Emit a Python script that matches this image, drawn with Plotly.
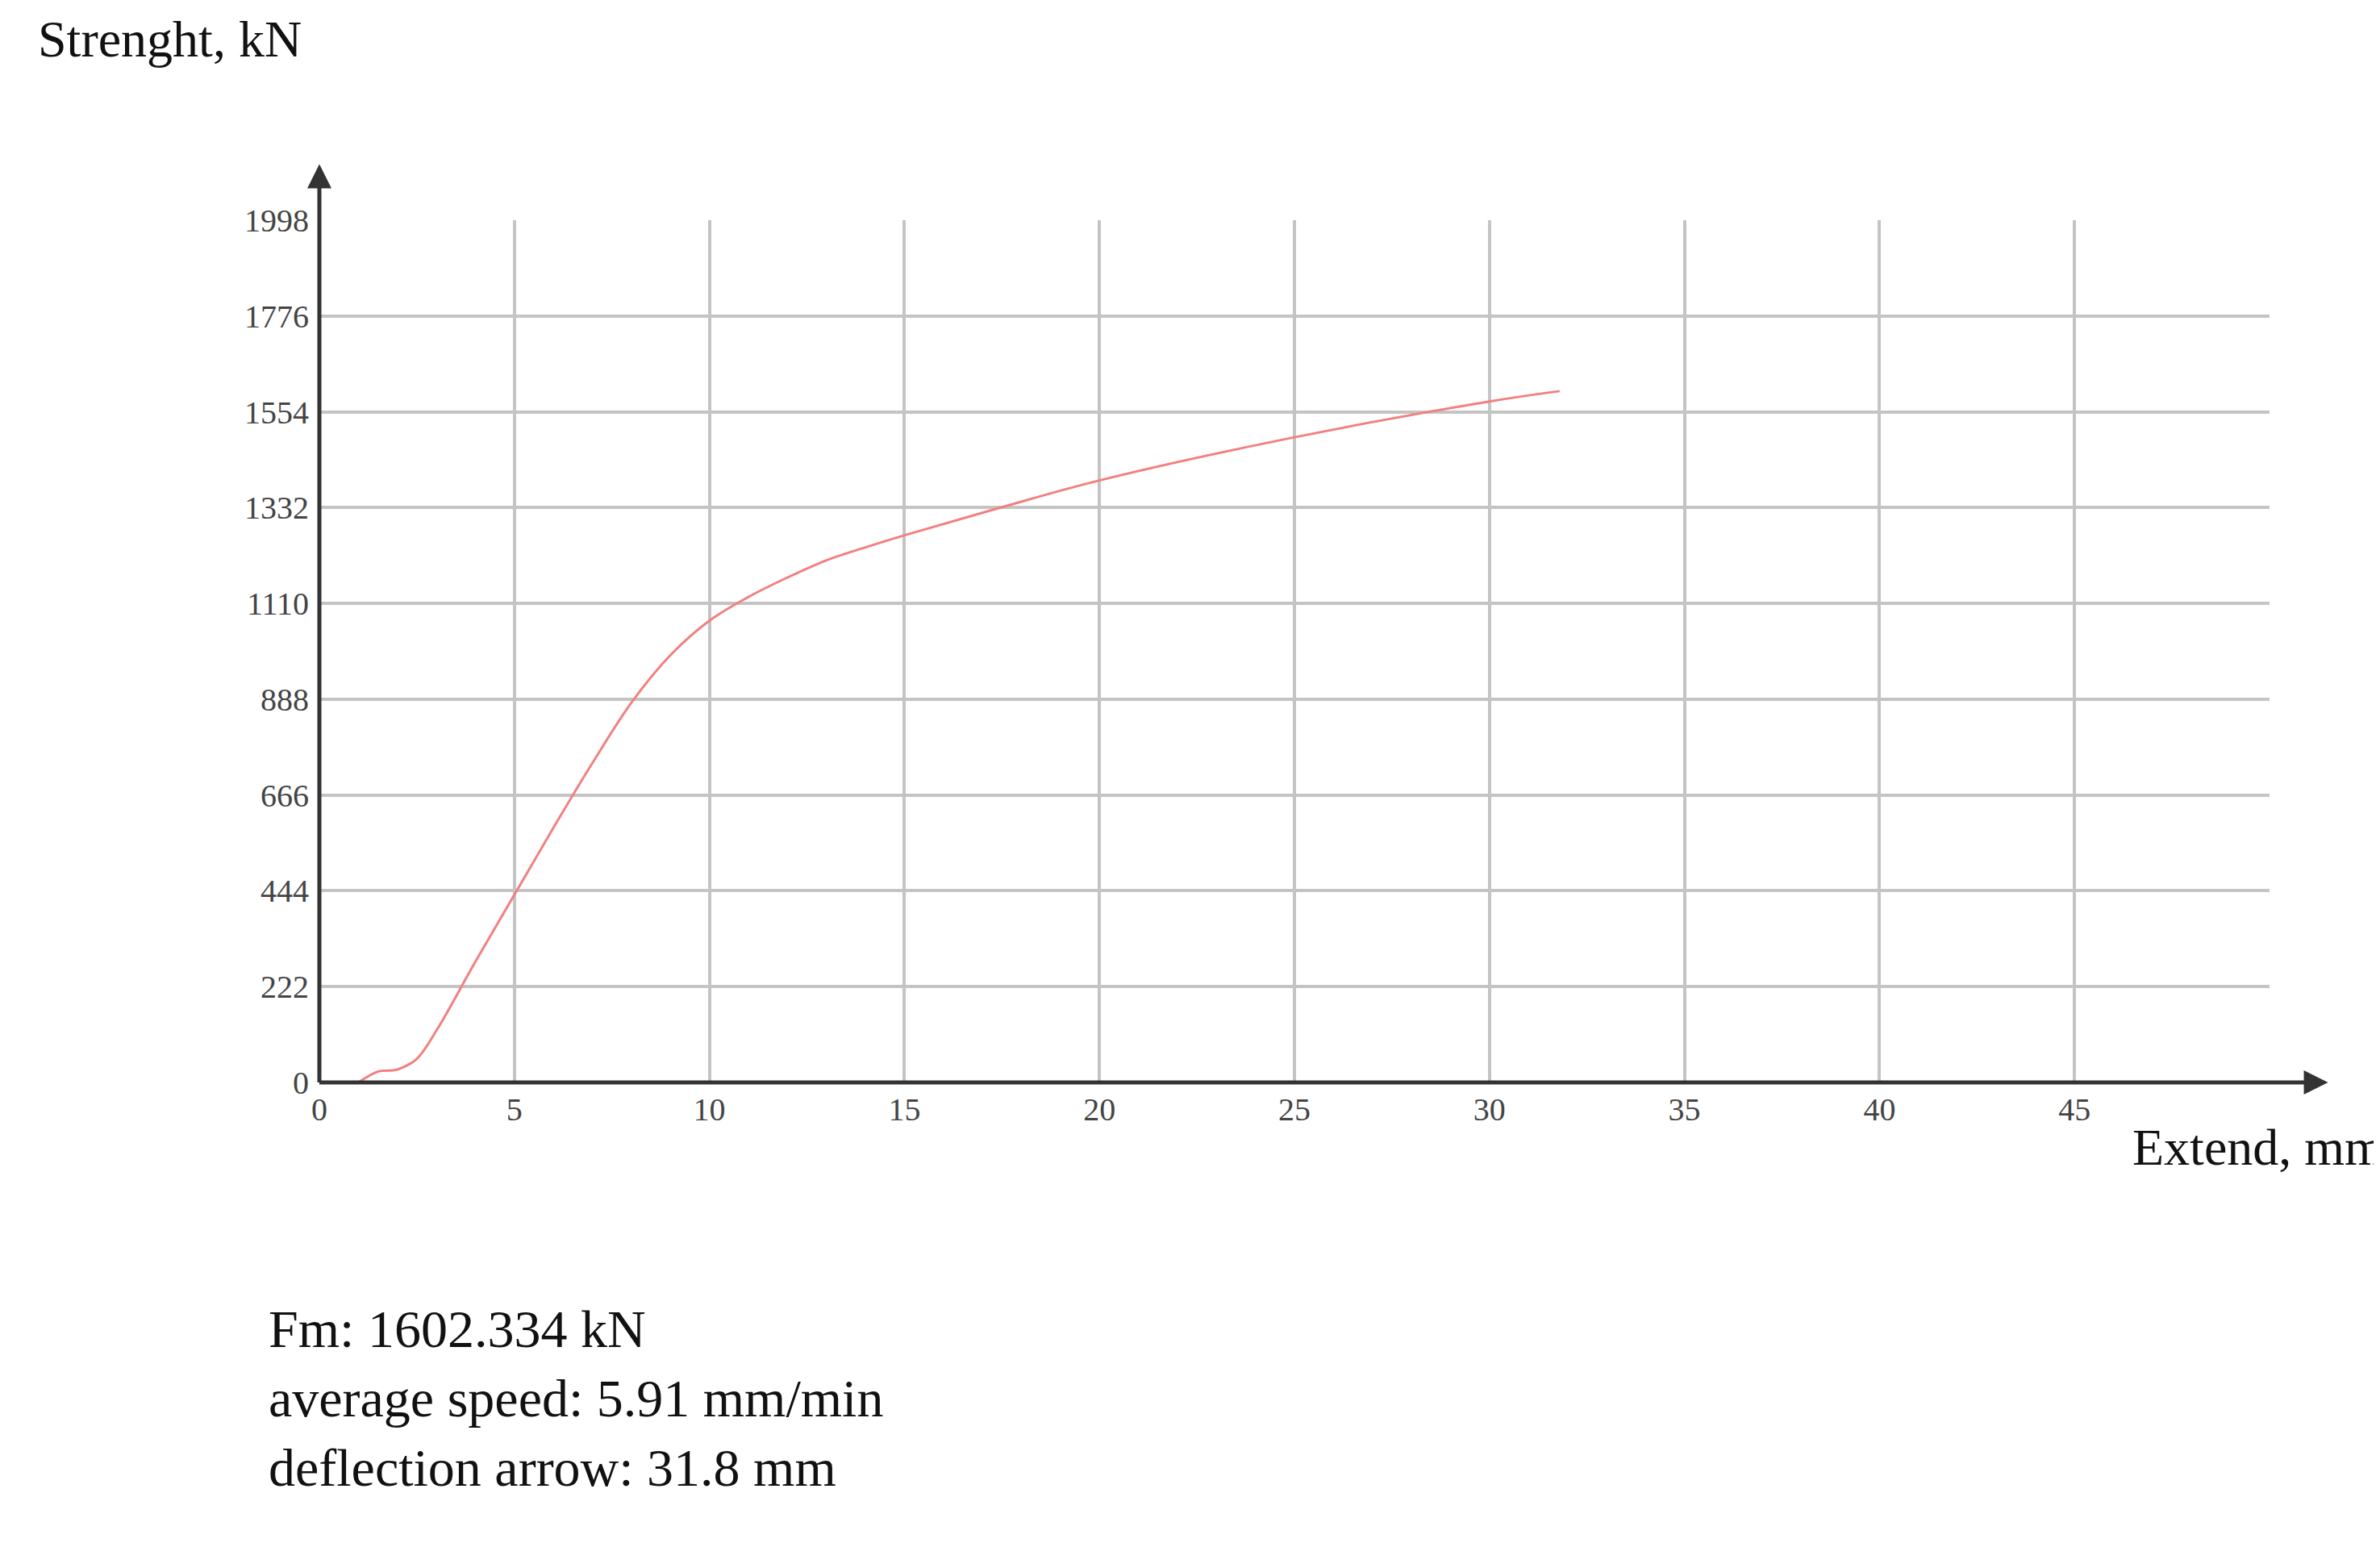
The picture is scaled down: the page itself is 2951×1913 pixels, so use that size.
import plotly.graph_objects as go

extend_mm = [1.0, 1.5, 2.0, 2.5, 3.0, 4.0, 5.0, 6.0, 7.0, 8.0, 9.0, 10.0, 11.0, 12.0, 13.0, 14.0, 15.0, 17.0, 20.0, 25.0, 30.0, 31.8]
strength_kN = [0, 25, 30, 55, 120, 280, 435, 590, 740, 880, 990, 1070, 1125, 1170, 1210, 1240, 1268, 1320, 1395, 1495, 1578, 1602]
y_ticks = [0, 222, 444, 666, 888, 1110, 1332, 1554, 1776, 1998]
x_ticks = [0, 5, 10, 15, 20, 25, 30, 35, 40, 45]

W, H = 2951, 1913
L, R, T, B = 388, 2806, 265, 1334
serif = "Liberation Serif, DejaVu Serif, serif"

fig = go.Figure(go.Scatter(x=extend_mm, y=strength_kN, mode="lines",
                           line=dict(color="#f28080", width=3, shape="spline"), hoverinfo="skip"))
fig.update_layout(
    width=W, height=H, paper_bgcolor="white", plot_bgcolor="white", showlegend=False,
    margin=dict(l=L, r=W - R, t=T, b=H - B),
    font=dict(family=serif, color="#444", size=40),
    xaxis=dict(range=[0, 50], tickvals=x_ticks, showgrid=True, gridcolor="#c4c4c4", gridwidth=4,
               zeroline=False, showline=False, ticks="", ticklabelstandoff=6),
    yaxis=dict(range=[0, 1998], tickvals=y_ticks, showgrid=True, gridcolor="#c4c4c4", gridwidth=4,
               zeroline=False, showline=False, ticks="", ticklabelstandoff=12),
)
# axis lines and arrows
fig.add_shape(type="line", xref="paper", yref="paper", x0=0, x1=0, y0=0, y1=1.06, line=dict(color="#333", width=5))
fig.add_shape(type="line", xref="paper", yref="paper", x0=0, x1=1.025, y0=0, y1=0, line=dict(color="#333", width=5))
fig.add_annotation(xref="paper", yref="paper", x=0, y=1.065, ax=0, ay=30,
                   showarrow=True, arrowhead=2, arrowsize=1.2, arrowwidth=5, arrowcolor="#333", text="")
fig.add_annotation(xref="paper", yref="paper", x=1.03, y=0, ax=-30, ay=0,
                   showarrow=True, arrowhead=2, arrowsize=1.2, arrowwidth=5, arrowcolor="#333", text="")

fig.add_annotation(xref="paper", yref="paper", x=-0.145, y=1.21, xanchor="left", yanchor="middle",
                   text="Strenght, kN", showarrow=False, font=dict(size=64, color="#111", family=serif))
fig.add_annotation(xref="paper", yref="paper", x=1.06, y=-0.075, xanchor="right", yanchor="middle",
                   text="Extend, mm", showarrow=False, font=dict(size=64, color="#111", family=serif))
fig.add_annotation(xref="paper", yref="paper", x=-0.027, y=-0.25, xanchor="left", yanchor="top", align="left",
                   text="Fm: 1602.334 kN<br>average speed: 5.91 mm/min<br>deflection arrow: 31.8 mm",
                   showarrow=False, font=dict(size=66, color="#111", family=serif))
fig.write_html("out.html")
